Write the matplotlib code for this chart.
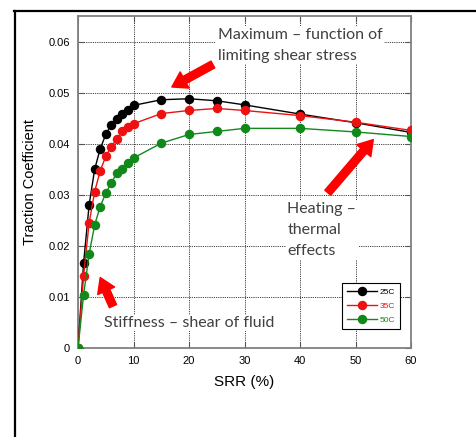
import numpy as np
import matplotlib.pyplot as plt
from matplotlib.lines import Line2D

## Data
srr = [0, 1, 2, 3, 4, 5, 6, 7, 8, 9, 10, 15, 20, 25, 30, 40, 50, 60]
tc_25 = [0, 0.0166, 0.0280, 0.0350, 0.0390, 0.0418, 0.0437, 0.0448, 0.0459, 0.0465, 0.0475,
         0.0486, 0.0488, 0.0484, 0.0476, 0.0458, 0.0441, 0.0422]
tc_35 = [0, 0.0141, 0.0245, 0.0306, 0.0347, 0.0375, 0.0394, 0.0409, 0.0425, 0.0432, 0.0439,
         0.0459, 0.0465, 0.0469, 0.0465, 0.0455, 0.0442, 0.0426]
tc_50 = [0, 0.0104, 0.0184, 0.0241, 0.0277, 0.0303, 0.0323, 0.0343, 0.0350, 0.0363, 0.0372,
         0.0401, 0.0418, 0.0424, 0.0430, 0.0430, 0.0423, 0.0414]
labels = ['25C', '35C', '50C']
colors = ['black', '#ee1111', '#11891a']
xticks = [0, 10, 20, 30, 40, 50, 60]
yticks = [0, 0.01, 0.02, 0.03, 0.04, 0.05, 0.06]
ytick_labels = ['0', '0.01', '0.02', '0.03', '0.04', '0.05', '0.06']

plt.rcParams['font.family'] = ['Liberation Sans', 'DejaVu Sans']

fig = plt.figure(figsize=(4.76, 4.37), dpi=100)
ax = fig.add_axes([0.1639, 0.2037, 0.6996, 0.7597])

for ys, lab, c in zip([tc_25, tc_35, tc_50], labels, colors):
    ax.plot(srr, ys, '-o', color=c, lw=1.0, ms=5.8, label=lab, zorder=3)

ax.set_xlim(0, 60)
ax.set_ylim(0, 0.065)
ax.set_xticks(xticks)
ax.set_yticks(yticks)
ax.set_yticklabels(ytick_labels)
ax.tick_params(direction='in', top=True, right=True, labelsize=8, length=4,
               color='#555555', pad=6)
ax.grid(True, color='black', linestyle=(0, (1, 1.2)), lw=0.6)
for s in ax.spines.values():
    s.set_color('#808080')
    s.set_linewidth(1.3)
ax.set_xlabel('SRR (%)', fontsize=11, labelpad=6)
ax.set_ylabel('Traction Coefficient', fontsize=10.5, labelpad=8)

leg = ax.legend(loc='lower right', bbox_to_anchor=(0.967, 0.057), borderaxespad=0,
                fontsize=6, handlelength=3.6, markerscale=1.0, fancybox=False,
                framealpha=1, edgecolor='black', borderpad=0.6, labelspacing=0.75,
                handletextpad=0.3)
leg.get_frame().set_linewidth(0.8)
for t, c in zip(leg.get_texts(), colors):
    t.set_color(c)

# annotations
tfont = dict(family=['Lato', 'DejaVu Sans'], fontsize=11.5, color='#404040')
box = dict(facecolor='white', edgecolor='none', pad=1)
ax.text(25.2, 0.0593, 'Maximum \u2013 function of\nlimiting shear stress', va='center', ha='left',
        linespacing=1.65, bbox=box, zorder=4, **tfont)
ax.text(37.7, 0.0231, 'Heating \u2013\nthermal\neffects', va='center', ha='left',
        linespacing=1.65, bbox=box, zorder=4, **tfont)
ax.text(4.6, 0.0049, 'Stiffness \u2013 shear of fluid', va='center', ha='left',
        bbox=box, zorder=4, **tfont)

arrow = dict(arrowstyle='simple,head_length=0.75,head_width=0.95,tail_width=0.4',
             color='red', mutation_scale=14, shrinkA=0, shrinkB=0)
ax.annotate('', xy=(16.9, 0.0511), xytext=(24.3, 0.0555), arrowprops=arrow, zorder=5)
ax.annotate('', xy=(53.2, 0.0408), xytext=(45.0, 0.0304), arrowprops=arrow, zorder=5)
ax.annotate('', xy=(4.0, 0.0138), xytext=(6.3, 0.0082), arrowprops=arrow, zorder=5)

# frame lines around the figure (slide border)
fig.add_artist(Line2D([14 / 476, 1], [1 - 11 / 437] * 2, color='black', lw=1.6))
fig.add_artist(Line2D([15 / 476] * 2, [0, 1 - 11 / 437], color='black', lw=1.6))

fig.savefig('out.png', dpi=100)
